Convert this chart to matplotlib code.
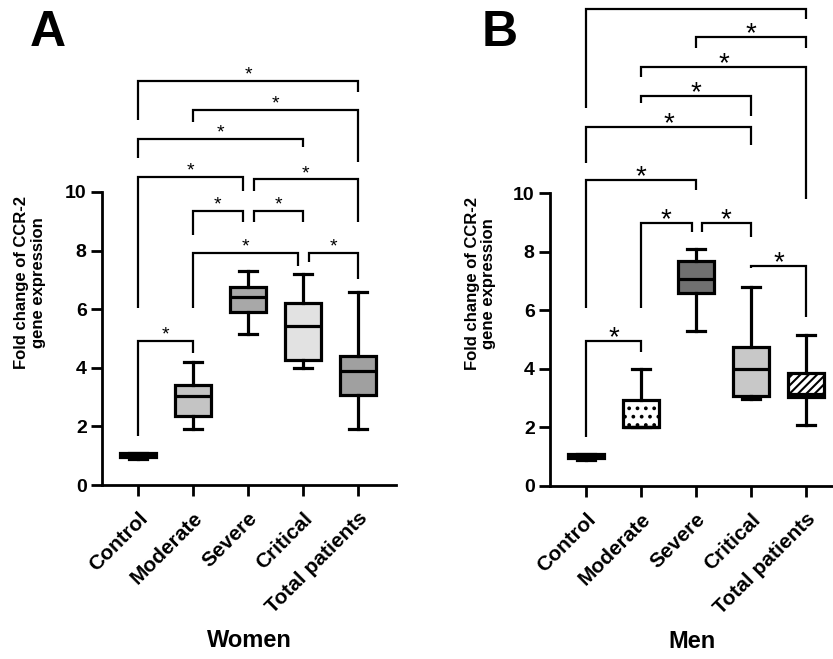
import matplotlib.pyplot as plt

plt.rcParams['font.family'] = ['Liberation Sans', 'DejaVu Sans']
plt.rcParams['hatch.linewidth'] = 1.5

categories = ['Control', 'Moderate', 'Severe', 'Critical', 'Total patients']

# box stats: whisker low, q1, median, q3, whisker high
women_whislo = [0.90, 1.91, 5.15, 4.00, 1.91]
women_q1 = [0.95, 2.35, 5.92, 4.27, 3.07]
women_med = [1.00, 3.04, 6.40, 5.44, 3.89]
women_q3 = [1.08, 3.41, 6.77, 6.21, 4.40]
women_whishi = [1.10, 4.21, 7.32, 7.20, 6.60]

men_whislo = [0.90, 2.00, 5.30, 2.97, 2.08]
men_q1 = [0.95, 2.00, 6.60, 3.07, 3.05]
men_med = [1.00, 2.02, 7.08, 3.99, 3.15]
men_q3 = [1.08, 2.94, 7.69, 4.75, 3.84]
men_whishi = [1.10, 3.98, 8.08, 6.80, 5.15]

women_fill = ['black', '#c4c4c4', '#a8a8a8', '#e2e2e2', '#a0a0a0']
men_fill = ['black', 'white', '#707070', '#c8c8c8', 'white']
men_hatch = [None, '..', None, None, '////']

# significance brackets: x1, x2, bar height, left leg end, right leg end, star
women_brackets = [
    (0, 4, 13.80, 12.46, 13.42, True),
    (1, 4, 12.80, 12.40, 11.03, True),
    (0, 3, 11.82, 11.16, 11.54, True),
    (0, 1.9, 10.52, 6.04, 10.04, True),
    (2.1, 4, 10.43, 10.04, 8.99, True),
    (1, 1.9, 9.36, 8.53, 8.99, True),
    (2.1, 3, 9.36, 8.99, 8.99, True),
    (1, 2.9, 7.91, 6.03, 7.47, True),
    (3.1, 4, 7.91, 7.62, 7.02, True),
    (0, 1, 4.92, 1.67, 4.52, True),
]
men_brackets = [
    (0, 4, 16.27, 12.89, 15.93, False),
    (2, 4, 15.31, 14.94, 14.94, True),
    (1, 4, 14.31, 13.95, 9.78, True),
    (1, 3, 13.31, 13.06, 12.63, True),
    (0, 3, 12.26, 11.01, 11.64, True),
    (0, 2, 10.44, 6.06, 10.10, True),
    (1, 1.92, 8.99, 6.06, 8.68, True),
    (2.1, 3, 8.99, 8.68, 8.49, True),
    (3, 4, 7.51, 7.43, 5.78, True),
    (0, 1, 4.96, 1.68, 4.58, True),
]


def draw_panel(ax, lo, q1, med, q3, hi, fills, hatches, brackets, star_size, star_off, xlabel):
    stats = []
    for i in range(len(categories)):
        stats.append(dict(whislo=lo[i], q1=q1[i], med=med[i], q3=q3[i], whishi=hi[i]))
    lw = 2.3
    bp = ax.bxp(stats, positions=range(len(categories)), widths=0.64, showfliers=False,
                patch_artist=True, capwidths=0.33,
                boxprops=dict(linewidth=lw, edgecolor='black'),
                whiskerprops=dict(linewidth=lw, color='black'),
                capprops=dict(linewidth=lw, color='black'),
                medianprops=dict(linewidth=lw, color='black'))
    for i, box in enumerate(bp['boxes']):
        box.set_facecolor(fills[i])
        if hatches[i]:
            box.set_hatch(hatches[i])

    for x1, x2, y, l1, l2, star in brackets:
        ax.plot([x1, x1, x2, x2], [l1, y, y, l2], color='black', lw=1.6,
                clip_on=False, solid_capstyle='butt', solid_joinstyle='miter')
        if star:
            ax.annotate('*', ((x1 + x2) / 2, y), xytext=(0, star_off), textcoords='offset points',
                        ha='center', va='baseline', fontsize=star_size, annotation_clip=False)

    ax.set_ylim(0, 10)
    ax.set_yticks(range(0, 11, 2))
    ax.set_xticks(range(len(categories)))
    ax.set_xticklabels(categories, rotation=45, ha='right', va='top', rotation_mode='anchor',
                       fontsize=15, fontweight='bold')
    for lab in ax.get_yticklabels():
        lab.set_fontweight('bold')
        lab.set_fontsize(14)
    ax.spines['top'].set_visible(False)
    ax.spines['right'].set_visible(False)
    ax.spines['left'].set_linewidth(2.0)
    ax.spines['bottom'].set_linewidth(2.0)
    ax.tick_params(width=2.0, length=8, pad=3)
    ax.tick_params(axis='x', pad=9)
    ax.text(-0.245, 0.69, 'Fold change of CCR-2\ngene expression', transform=ax.transAxes,
            rotation=90, ha='center', va='center', fontsize=12, fontweight='bold',
            linespacing=1.15)
    ax.text(0.5, -0.53, xlabel, transform=ax.transAxes, ha='center', va='center',
            fontsize=17, fontweight='bold')


fig = plt.figure(figsize=(8.33, 6.59), dpi=100)
ax1 = fig.add_axes([102 / 833, 174 / 659, 294 / 833, 293 / 659])
ax2 = fig.add_axes([550 / 833, 173 / 659, 283.5 / 833, 293 / 659])

draw_panel(ax1, women_whislo, women_q1, women_med, women_q3, women_whishi,
           women_fill, [None] * 5, women_brackets, 14, 1, 'Women')
ax1.set_xlim(-0.655, 4.69)

draw_panel(ax2, men_whislo, men_q1, men_med, men_q3, men_whishi,
           men_fill, men_hatch, men_brackets, 20, -3, 'Men')
ax2.set_xlim(-0.655, 4.5)

fig.text(48 / 833, 1 - 33 / 659, 'A', fontsize=36, fontweight='bold', ha='center', va='center')
fig.text(500 / 833, 1 - 33 / 659, 'B', fontsize=36, fontweight='bold', ha='center', va='center')

fig.savefig('out.png', dpi=100)
